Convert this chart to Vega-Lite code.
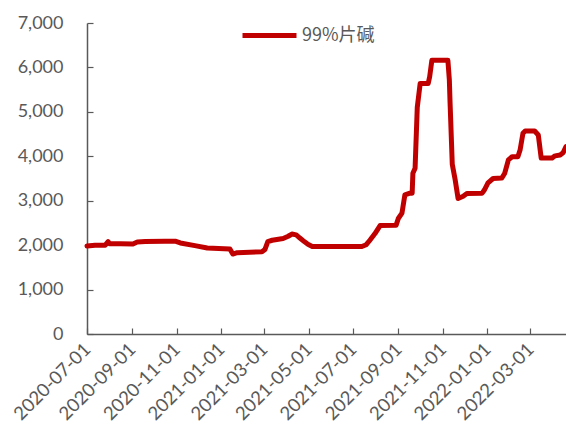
{
  "$schema": "https://vega.github.io/schema/vega-lite/v6.json",
  "width": 479,
  "height": 311,
  "autosize": {"type": "none"},
  "padding": {"left": 87, "top": 23, "right": 0, "bottom": 99},
  "background": "white",
  "config": {"view": {"stroke": null}, "font": "Lato"},
  "data": {
    "values": [
      {"date": "2020-07-01", "value": 1980},
      {"date": "2020-07-12", "value": 2000},
      {"date": "2020-07-26", "value": 2000},
      {"date": "2020-07-30", "value": 2080},
      {"date": "2020-08-01", "value": 2030},
      {"date": "2020-08-16", "value": 2030},
      {"date": "2020-09-02", "value": 2025},
      {"date": "2020-09-08", "value": 2070},
      {"date": "2020-09-19", "value": 2080},
      {"date": "2020-10-16", "value": 2085},
      {"date": "2020-10-30", "value": 2090},
      {"date": "2020-11-06", "value": 2050},
      {"date": "2020-11-26", "value": 1990},
      {"date": "2020-12-13", "value": 1935},
      {"date": "2021-01-13", "value": 1915},
      {"date": "2021-01-17", "value": 1800},
      {"date": "2021-01-23", "value": 1830},
      {"date": "2021-02-26", "value": 1850},
      {"date": "2021-03-02", "value": 1900},
      {"date": "2021-03-06", "value": 2080},
      {"date": "2021-03-12", "value": 2110},
      {"date": "2021-03-27", "value": 2150},
      {"date": "2021-04-03", "value": 2200},
      {"date": "2021-04-08", "value": 2250},
      {"date": "2021-04-14", "value": 2230},
      {"date": "2021-04-19", "value": 2160},
      {"date": "2021-04-25", "value": 2080},
      {"date": "2021-04-30", "value": 2020},
      {"date": "2021-05-06", "value": 1970},
      {"date": "2021-07-13", "value": 1970},
      {"date": "2021-07-19", "value": 2010},
      {"date": "2021-07-24", "value": 2110},
      {"date": "2021-07-31", "value": 2260},
      {"date": "2021-08-07", "value": 2440},
      {"date": "2021-08-29", "value": 2450},
      {"date": "2021-09-01", "value": 2600},
      {"date": "2021-09-06", "value": 2720},
      {"date": "2021-09-10", "value": 3130},
      {"date": "2021-09-17", "value": 3170},
      {"date": "2021-09-20", "value": 3170},
      {"date": "2021-09-21", "value": 3620},
      {"date": "2021-09-24", "value": 3730},
      {"date": "2021-09-27", "value": 5100},
      {"date": "2021-10-01", "value": 5640},
      {"date": "2021-10-12", "value": 5640},
      {"date": "2021-10-14", "value": 5790},
      {"date": "2021-10-17", "value": 6160},
      {"date": "2021-11-08", "value": 6160},
      {"date": "2021-11-10", "value": 5720},
      {"date": "2021-11-11", "value": 5200},
      {"date": "2021-11-14", "value": 3820},
      {"date": "2021-11-18", "value": 3470},
      {"date": "2021-11-22", "value": 3050},
      {"date": "2021-11-29", "value": 3100},
      {"date": "2021-12-04", "value": 3160},
      {"date": "2021-12-25", "value": 3170},
      {"date": "2021-12-28", "value": 3240},
      {"date": "2022-01-02", "value": 3400},
      {"date": "2022-01-09", "value": 3500},
      {"date": "2022-01-21", "value": 3510},
      {"date": "2022-01-25", "value": 3620},
      {"date": "2022-01-30", "value": 3920},
      {"date": "2022-02-04", "value": 3990},
      {"date": "2022-02-12", "value": 3990},
      {"date": "2022-02-15", "value": 4140},
      {"date": "2022-02-19", "value": 4520},
      {"date": "2022-02-22", "value": 4570},
      {"date": "2022-03-07", "value": 4570},
      {"date": "2022-03-12", "value": 4480},
      {"date": "2022-03-16", "value": 3960},
      {"date": "2022-03-31", "value": 3960},
      {"date": "2022-04-04", "value": 4010},
      {"date": "2022-04-11", "value": 4030},
      {"date": "2022-04-15", "value": 4080},
      {"date": "2022-04-19", "value": 4220}
    ]
  },
  "mark": {"type": "line", "strokeWidth": 5, "strokeJoin": "round", "strokeCap": "round", "clip": false},
  "encoding": {
    "x": {
      "field": "date",
      "type": "temporal",
      "scale": {
        "type": "utc",
        "domain": [
          {"year": 2020, "month": 7, "date": 1, "utc": true},
          {"year": 2022, "month": 4, "date": 19, "utc": true}
        ]
      },
      "axis": {
        "title": null,
        "grid": false,
        "format": "%Y-%m-%d",
        "tickCount": {"interval": "month", "step": 2},
        "labelAngle": -45,
        "labelAlign": "right",
        "labelBaseline": "middle",
        "labelFontSize": 18.5,
        "labelColor": "#595959",
        "labelPadding": 18,
        "labelOverlap": false,
        "labelFlush": false,
        "domainColor": "#595959",
        "domainWidth": 1.5,
        "tickColor": "#595959",
        "tickWidth": 1.2,
        "tickSize": -6
      }
    },
    "y": {
      "field": "value",
      "type": "quantitative",
      "scale": {"domain": [0, 7000]},
      "axis": {
        "title": null,
        "grid": false,
        "values": [0, 1000, 2000, 3000, 4000, 5000, 6000, 7000],
        "format": ",d",
        "labelFontSize": 18,
        "labelColor": "#595959",
        "labelPadding": 30,
        "domainColor": "#595959",
        "domainWidth": 1.5,
        "tickColor": "#595959",
        "tickWidth": 1.2,
        "tickSize": -6
      }
    },
    "color": {
      "datum": "99%片碱",
      "type": "nominal",
      "scale": {"range": ["#C00000"]},
      "legend": {
        "orient": "none",
        "legendX": 153,
        "legendY": -17,
        "title": null,
        "padding": 0,
        "symbolType": "stroke",
        "symbolSize": 2916,
        "symbolStrokeWidth": 5,
        "labelOffset": 3,
        "labelFontSize": 18,
        "labelColor": "#595959",
        "labelFont": "Noto Sans CJK SC"
      }
    }
  }
}
